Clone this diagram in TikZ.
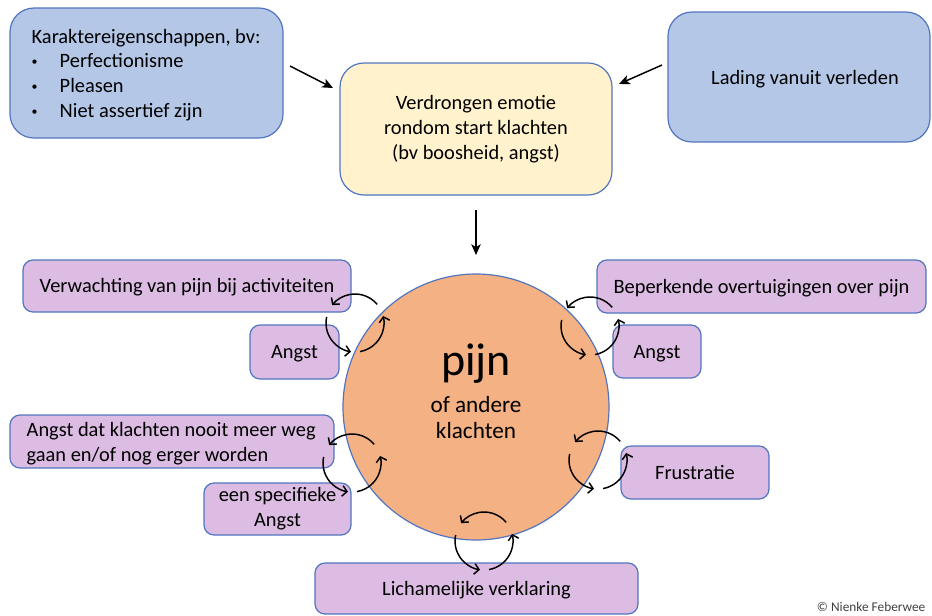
\documentclass[tikz,border=0pt]{standalone}
\usepackage{fontspec}
\setmainfont{Carlito}
\usetikzlibrary{arrows.meta,calc}
\definecolor{bluefill}{HTML}{B4C7E7}
\definecolor{edgeblue}{HTML}{5275C0}
\definecolor{yellowfill}{HTML}{FFF2CC}
\definecolor{purplefill}{HTML}{DCBCE2}
\definecolor{orangefill}{HTML}{F4B183}
\tikzset{
  bigbox/.style={draw=edgeblue, line width=0.9pt, rounded corners=18pt, inner sep=0pt},
  smallbox/.style={draw=edgeblue, line width=0.9pt, rounded corners=7.5pt, inner sep=0pt, fill=purplefill},
  txt/.style={font=\fontsize{15.3}{18.6}\selectfont},
  oneline/.style={text height=11.5pt, text depth=1.7pt},
  arr/.style={line width=1.1pt, -{Stealth[length=8pt,width=7pt,inset=2pt]}},
  cyc/.style={line width=1.1pt, -{Straight Barb[length=3.5pt,width=8pt]}},
}
\newcommand{\smbul}{\makebox[21pt][l]{\raisebox{0.12em}{\fontsize{9}{9}\selectfont •}}}
\newcommand{\cycle}[1]{%
  \draw[cyc] ($(#1)+(-40:29)$) arc[start angle=-40, end angle=-142, radius=29];
  \draw[cyc] ($(#1)+(192:29)$) arc[start angle=192, end angle=98, radius=29];
  \draw[cyc] ($(#1)+(80:29)$) arc[start angle=80, end angle=-14, radius=29];
}
\begin{document}
\begin{tikzpicture}[x=0.75pt,y=-0.75pt]
\useasboundingbox (0,0) rectangle (932,615);
% top boxes
\node[bigbox, fill=bluefill, minimum width=204.75pt, minimum height=97.5pt] (kar) at (146.5,73) {};
\node[txt, anchor=west, align=left] (kartxt) at (27,75) {Karaktereigenschappen, bv:\\
\smbul Perfectionisme\\
\smbul Pleasen\\
\smbul Niet assertief zijn};
\node[bigbox, fill=bluefill, minimum width=196.5pt, minimum height=97.5pt] (lad) at (799,77) {};
\node[txt, oneline] (ladtxt) at (805,78) {Lading vanuit verleden};
\node[bigbox, fill=yellowfill, minimum width=204pt, minimum height=99pt, txt, align=center] (emo) at (476,129) {Verdrongen emotie\\rondom start klachten\\(bv boosheid, angst)};
% circle
\node[circle, draw=edgeblue, line width=0.9pt, fill=orangefill, minimum size=199.5pt, inner sep=0pt] (pijn) at (476,407) {};
\node[anchor=base, font=\fontsize{34.5}{40}\selectfont] (pijntxt) at (476,375) {pijn};
\node[anchor=base, font=\fontsize{17.4}{19.5}\selectfont] (of) at (476,412) {of andere};
\node[anchor=base, font=\fontsize{17.4}{19.5}\selectfont] (kl) at (476,438) {klachten};
% purple boxes
\node[smallbox, txt, oneline, minimum width=246pt, minimum height=39pt] (verw) at (187,286) {Verwachting van pijn bij activiteiten};
\node[smallbox, txt, oneline, minimum width=66.75pt, minimum height=40.5pt] (angstl) at (294.5,352) {Angst};
\node[smallbox, txt, oneline, minimum width=246.75pt, minimum height=39.75pt] (bep) at (761.5,286.5) {Beperkende overtuigingen over pijn};
\node[smallbox, txt, oneline, minimum width=66pt, minimum height=39.75pt] (angstr) at (657,351.5) {Angst};
\node[smallbox, minimum width=243pt, minimum height=39.75pt] (dat) at (172,441.5) {};
\node[txt, anchor=west, align=left] (dattxt) at (22,444) {Angst dat klachten nooit meer weg\\gaan en/of nog erger worden};
\node[smallbox, txt, align=center, minimum width=110.25pt, minimum height=39pt] (spec) at (277.5,509) {een specifieke\\Angst};
\node[smallbox, txt, oneline, minimum width=111pt, minimum height=39.75pt] (frus) at (695,472.5) {Frustratie};
\node[smallbox, txt, oneline, minimum width=242.25pt, minimum height=38.25pt] (lich) at (476.5,588.5) {Lichamelijke verklaring};
% straight arrows
\coordinate (a1s) at (290,66); \coordinate (a1e) at (333,88);
\coordinate (a2s) at (662,65); \coordinate (a2e) at (619,84);
\coordinate (a3s) at (476,210); \coordinate (a3e) at (476,255);
\draw[arr] (a1s) -- (a1e);
\draw[arr] (a2s) -- (a2e);
\draw[arr] (a3s) -- (a3e);
% cycle arrows
\coordinate (c1) at (355,323);
\coordinate (c2) at (590,326);
\coordinate (c3) at (352,463);
\coordinate (c4) at (598,460);
\coordinate (c5) at (484,541);
\cycle{c1}
\cycle{c2}
\cycle{c3}
\cycle{c4}
\cycle{c5}
% copyright
\node[anchor=base east, font=\fontsize{10}{12}\selectfont, text=black!75] (copy) at (930,611) {© Nienke Feberwee};
\end{tikzpicture}
\end{document}
